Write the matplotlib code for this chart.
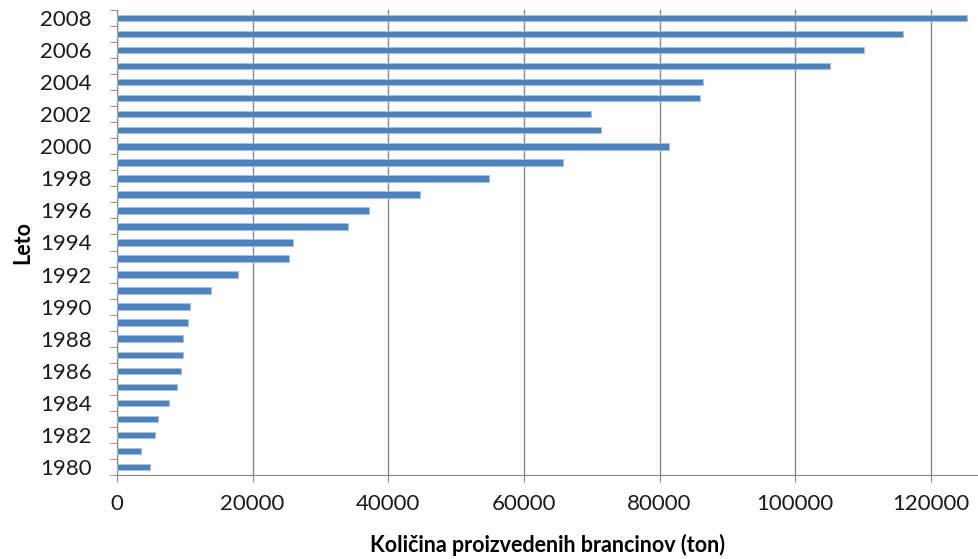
import matplotlib
matplotlib.use("Agg")
import matplotlib.pyplot as plt
import numpy as np

# European sea bass production by year (tonnes)
years = list(range(1980, 2009))
tonnes = [4900, 3500, 5600, 6100, 7600, 8800, 9500, 9800, 9700, 10400,
          10700, 13900, 17800, 25300, 25900, 34000, 37200, 44700, 54800, 65700,
          81400, 71300, 69900, 86000, 86400, 105200, 110100, 115900, 125300]
xticks = [0, 20000, 40000, 60000, 80000, 100000, 120000]
label_years = list(range(1980, 2009, 2))

BAR = "#4F81BD"
GRID = "#868686"

plt.rcParams["font.family"] = ["Lato", "DejaVu Sans"]

fig = plt.figure(figsize=(9.79, 5.59), dpi=100)
ax = fig.add_axes([117 / 979, 1 - 475 / 559, 1 - 117 / 979, 465 / 559])

ax.barh(years, tonnes, height=0.4, color=BAR, edgecolor="#A7C0DE",
        linewidth=0.6, zorder=3)

ax.set_xlim(0, 127100)
ax.set_ylim(1979.5, 2008.5)

ax.set_xticks(xticks)
ax.set_xticklabels([str(v) for v in xticks])
ax.xaxis.grid(True, color=GRID, linewidth=1.0, zorder=0)
ax.tick_params(axis="x", length=5, color=GRID, labelsize=16, pad=9,
               labelcolor="#1a1a1a")

ax.set_yticks(label_years)
ax.set_yticklabels([str(y) for y in label_years])
ax.set_yticks(np.arange(1979.5, 2009, 1.0), minor=True)
ax.tick_params(axis="y", which="major", length=0, labelsize=16, pad=18,
               labelcolor="#1a1a1a")
ax.tick_params(axis="y", which="minor", length=5, color=GRID)

for side in ["top", "right"]:
    ax.spines[side].set_visible(False)
ax.spines["left"].set_color(GRID)
ax.spines["bottom"].set_color(GRID)

ax.set_xlabel("Količina proizvedenih brancinov (ton)", fontsize=15.5,
              fontweight="bold", labelpad=14)
ax.set_ylabel("Leto", fontsize=15.5, fontweight="bold", labelpad=5)

fig.savefig("out.png", dpi=100)
